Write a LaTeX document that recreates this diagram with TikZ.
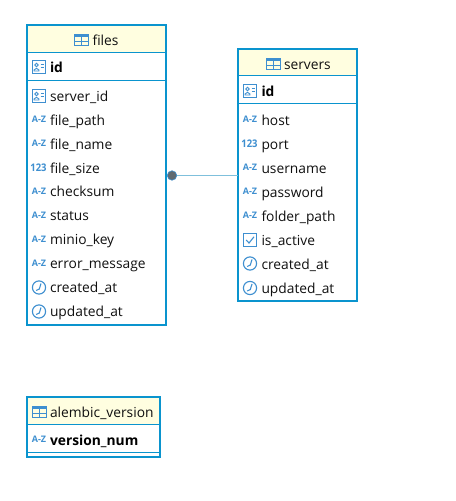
\documentclass[tikz,border=0pt]{standalone}
\usepackage{fontspec}
\setmainfont{Open Sans}
\definecolor{edgeblue}{HTML}{0A94CE}
\definecolor{iconblue}{HTML}{3E8FD0}
\definecolor{headfill}{HTML}{FFFEE0}
\definecolor{linkblue}{HTML}{7FC0DC}
\definecolor{dotgrey}{HTML}{5F6A72}
\definecolor{txt}{HTML}{101010}
\newcommand{\icaz}[2]{\node[azicon] at (#1,#2) {A-Z};}
\newcommand{\icnum}[2]{\node[numicon] at (#1,#2) {123};}
\newcommand{\iccard}[2]{\begin{scope}[shift={(#1,#2)}]
  \draw[iconthin,fill=white] (-6.5,-6.5) rectangle (6.5,6.5);
  \draw[iconthin] (-2.5,-2) circle (1.7);
  \draw[iconthin] (-5,4) -- (-5,3) .. controls (-4,0.8) and (-1,0.8) .. (0,3) -- (0,4) -- cycle;
  \draw[iconthin] (1.5,-3) -- (5,-3) (1.5,0) -- (5,0);
\end{scope}}
\newcommand{\icclock}[2]{\begin{scope}[shift={(#1,#2)}]
  \draw[iconthin,line width=1.1] (0,0) circle (6.6);
  \draw[iconthin,line width=1.1] (2,-4) -- (0.3,1.5) -- (-2.8,3);
\end{scope}}
\newcommand{\iccheck}[2]{\begin{scope}[shift={(#1,#2)}]
  \draw[iconthin] (-6.5,-6.5) rectangle (6.5,6.5);
  \draw[iconthin,line width=1.1] (-3.8,0) -- (-1,3) -- (4,-3.2);
\end{scope}}
\newcommand{\ictable}[2]{\begin{scope}[shift={(#1,#2)}]
  \fill[iconblue] (-7,-5.5) rectangle (7,-2.5);
  \draw[iconthin] (-7,-5.5) rectangle (7,5.5);
  \draw[iconthin] (-7,1.5) -- (7,1.5) (0,-2.5) -- (0,5.5);
\end{scope}}
\tikzset{
  x=1bp,y=-1bp,
  every node/.style={font=\fontsize{13.8bp}{16bp}\selectfont,text=txt,inner sep=0pt,outer sep=0pt},
  tablebox/.style={draw=edgeblue,line width=2bp,anchor=north west},
  sepline/.style={draw=edgeblue,line width=1bp},
  iconthin/.style={draw=iconblue,line width=0.9bp},
  azicon/.style={font=\fontsize{9bp}{10bp}\selectfont\bfseries,text=iconblue},
  numicon/.style={font=\fontsize{10.5bp}{11bp}\selectfont\bfseries,text=iconblue,xscale=0.9},
  rowtext/.style={anchor=base west,yshift=-0.8bp,font=\fontsize{13.8bp}{16bp}\selectfont},
  keytext/.style={anchor=base west,yshift=-0.8bp,font=\fontsize{13.8bp}{16bp}\selectfont\bfseries,text=black},
  headtext/.style={anchor=base west,yshift=-0.8bp,font=\fontsize{13.8bp}{16bp}\selectfont},
  linkline/.style={draw=linkblue,line width=1bp},
  linkdot/.style={circle,fill=dotgrey,draw=iconblue,line width=0.6bp,minimum size=9.5bp},
}
\begin{document}
\begin{tikzpicture}
\useasboundingbox (0,0) rectangle (456,501);
\fill[white] (0,0) rectangle (456,501);
% files
\fill[headfill] (26.5,25.5) rectangle (166,52.5);
\node[tablebox,minimum width=139.5bp,minimum height=299.5bp] (files) at (26.5,25.5) {};
\draw[sepline] (26.5,52.5) -- (166,52.5) (26.5,80.5) -- (166,80.5);
\ictable{81.5}{39.5}
\node[headtext] (filesT) at (92.5,44.5) {files};
\iccard{39}{67}
\node[keytext] (f0) at (50,72) {id};
\iccard{39}{96}
\node[rowtext] (f1) at (50,101) {server\_id};
\icaz{39}{119.5}
\node[rowtext] (f2) at (50,125) {file\_path};
\icaz{39}{143.5}
\node[rowtext] (f3) at (50,149) {file\_name};
\icnum{38.5}{167.5}
\node[rowtext] (f4) at (50,173) {file\_size};
\icaz{39}{191}
\node[rowtext] (f5) at (50,196) {checksum};
\icaz{39}{215}
\node[rowtext] (f6) at (50,220) {status};
\icaz{39}{239}
\node[rowtext] (f7) at (50,244) {minio\_key};
\icaz{39}{263}
\node[rowtext] (f8) at (50,268) {error\_message};
\icclock{39}{287.5}
\node[rowtext] (f9) at (50,292) {created\_at};
\icclock{39}{311.5}
\node[rowtext] (f10) at (50,316) {updated\_at};
% servers
\fill[headfill] (238,49) rectangle (357,76);
\node[tablebox,minimum width=119bp,minimum height=252bp] (servers) at (238,49) {};
\draw[sepline] (238,76) -- (357,76) (238,104) -- (357,104);
\ictable{273}{63.5}
\node[headtext] (serversT) at (284,68.5) {servers};
\iccard{250}{91}
\node[keytext] (s0) at (261.5,96) {id};
\icaz{250}{119.5}
\node[rowtext] (s1) at (261.5,125) {host};
\icnum{249.5}{143.5}
\node[rowtext] (s2) at (261.5,149) {port};
\icaz{250}{167.5}
\node[rowtext] (s3) at (261.5,173) {username};
\icaz{250}{191}
\node[rowtext] (s4) at (261.5,197) {password};
\icaz{250}{215}
\node[rowtext] (s5) at (261.5,221) {folder\_path};
\iccheck{250}{240}
\node[rowtext] (s6) at (261.5,245) {is\_active};
\icclock{250}{263.5}
\node[rowtext] (s7) at (261.5,269) {created\_at};
\icclock{250}{288}
\node[rowtext] (s8) at (261.5,293) {updated\_at};
% alembic
\fill[headfill] (26.5,397) rectangle (160,424);
\node[tablebox,minimum width=133.5bp,minimum height=60bp] (alembic) at (26.5,397) {};
\draw[sepline] (26.5,424) -- (160,424) (26.5,452) -- (160,452);
\ictable{39}{411.5}
\node[headtext] (alembicT) at (50,416.5) {alembic\_version};
\icaz{39}{439.5}
\node[keytext] (a0) at (50,445) {version\_num};
% link
\node[linkdot] (dot) at (172,175.5) {};
\coordinate (linkend) at (servers.west |- dot);
\draw[linkline] (dot) -- (linkend);
\end{tikzpicture}
\end{document}
